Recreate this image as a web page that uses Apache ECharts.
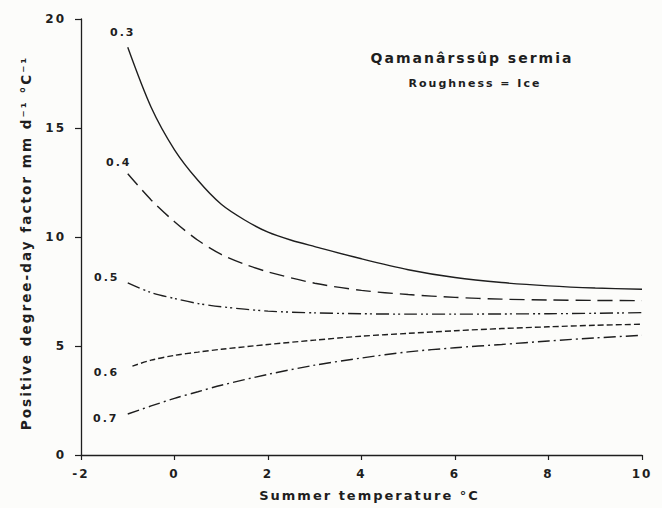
<!DOCTYPE html>
<html>
<head>
<meta charset="utf-8">
<script src="https://cdn.jsdelivr.net/npm/echarts@6/dist/echarts.min.js"></script>
<style>
html,body{margin:0;padding:0;background:#fcfcfa;}
#c{width:662px;height:508px;}
#c svg text{letter-spacing:2px;}
</style>
</head>
<body>
<div id="c"></div>
<script>
// Data
const xTicks = [-2, 0, 2, 4, 6, 8, 10];
const yTicks = [0, 5, 10, 15, 20];
const seriesNames = ['0.3', '0.4', '0.5', '0.6', '0.7'];

const x03 = [-1, -0.5, 0, 0.5, 1, 1.5, 2, 2.5, 3, 4, 5, 6, 7, 8, 9, 10];
const y03 = [18.7, 15.95, 14.0, 12.6, 11.5, 10.78, 10.22, 9.85, 9.56, 9.0, 8.5, 8.14, 7.91, 7.76, 7.66, 7.6];

const x04 = [-1, -0.5, 0, 0.5, 1, 1.5, 2, 3, 4, 5, 6, 7, 8, 9, 10];
const y04 = [12.9, 11.7, 10.7, 9.85, 9.2, 8.75, 8.4, 7.88, 7.55, 7.36, 7.23, 7.15, 7.11, 7.09, 7.08];

const x05 = [-1, -0.5, 0, 0.5, 1, 2, 3, 4, 5, 6, 7, 8, 9, 10];
const y05 = [7.9, 7.45, 7.18, 6.95, 6.8, 6.6, 6.52, 6.48, 6.46, 6.46, 6.47, 6.48, 6.5, 6.53];

const x06 = [-0.9, -0.5, 0, 0.5, 1, 2, 3, 4, 5, 6, 7, 8, 9, 10];
const y06 = [4.08, 4.35, 4.57, 4.72, 4.85, 5.07, 5.27, 5.45, 5.58, 5.7, 5.8, 5.88, 5.95, 6.0];

const x07 = [-1, -0.5, 0, 0.5, 1, 2, 3, 4, 5, 6, 7, 8, 9, 10];
const y07 = [1.88, 2.25, 2.6, 2.9, 3.2, 3.7, 4.12, 4.45, 4.73, 4.92, 5.07, 5.23, 5.37, 5.49];

const xs = [x03, x04, x05, x06, x07];
const ys = [y03, y04, y05, y06, y07];

const INK = '#1e1e1e';
const FONT = 'DejaVu Sans';
const dashes = ['solid', [15, 7], [13, 4, 2, 3, 2, 4], [6, 3], [12, 4, 2, 4]];
const labelOffsets = [[-5, -15], [-9, -11], [-21, -5], [-26, 6], [-22, 4]];

const series = seriesNames.map((name, i) => ({
  name: name,
  type: 'line',
  showSymbol: false,
  smooth: 0.3,
  data: xs[i].map((x, j) => [x, ys[i][j]]),
  lineStyle: { color: INK, width: 1.4, type: dashes[i] },
  itemStyle: { color: INK },
  z: 3,
  markPoint: {
    symbol: 'circle',
    symbolSize: 1,
    itemStyle: { color: 'rgba(0,0,0,0)' },
    animation: false,
    data: [{
      coord: [xs[i][0], ys[i][0]],
      label: {
        show: true,
        position: 'inside',
        offset: labelOffsets[i],
        formatter: name,
        color: INK,
        fontFamily: FONT,
        fontWeight: 'bold',
        fontSize: 11
      }
    }]
  }
}));

const chart = echarts.init(document.getElementById('c'), null, { renderer: 'svg' });
chart.setOption({
  backgroundColor: '#fcfcfa',
  animation: false,
  grid: { left: 81, right: 20, top: 19, bottom: 53 },
  xAxis: {
    type: 'value',
    min: xTicks[0],
    max: xTicks[xTicks.length - 1],
    interval: 2,
    name: 'Summer temperature °C',
    nameLocation: 'middle',
    nameGap: 34,
    nameTextStyle: { color: INK, fontFamily: FONT, fontWeight: 'bold', fontSize: 13, padding: [0, 0, 0, 16] },
    axisLine: { show: true, onZero: false, lineStyle: { color: INK, width: 1.3 } },
    axisTick: { show: true, inside: false, length: 5, lineStyle: { color: INK, width: 1.2 } },
    axisLabel: { color: INK, fontFamily: FONT, fontWeight: 'bold', fontSize: 12, margin: 13 },
    splitLine: { show: false }
  },
  yAxis: {
    type: 'value',
    min: yTicks[0],
    max: yTicks[yTicks.length - 1],
    interval: 5,
    name: 'Positive degree-day factor mm d⁻¹ °C⁻¹',
    nameLocation: 'middle',
    nameGap: 48,
    nameTextStyle: { color: INK, fontFamily: FONT, fontWeight: 'bold', fontSize: 13.6, padding: [0, 12, 0, 0] },
    axisLine: { show: true, onZero: false, lineStyle: { color: INK, width: 1.3 } },
    axisTick: { show: true, inside: false, length: 6, lineStyle: { color: INK, width: 1.2 } },
    axisLabel: { color: INK, fontFamily: FONT, fontWeight: 'bold', fontSize: 12, margin: 15 },
    splitLine: { show: false }
  },
  graphic: [
    {
      type: 'text', x: 472, y: 58,
      style: { text: 'Qamanârssûp sermia', fill: INK, font: 'bold 14px "DejaVu Sans"', textAlign: 'center', textVerticalAlign: 'middle' }
    },
    {
      type: 'text', x: 475, y: 83,
      style: { text: 'Roughness = Ice', fill: INK, font: 'bold 11px "DejaVu Sans"', textAlign: 'center', textVerticalAlign: 'middle' }
    }
  ],
  series: series
});
</script>
</body>
</html>
